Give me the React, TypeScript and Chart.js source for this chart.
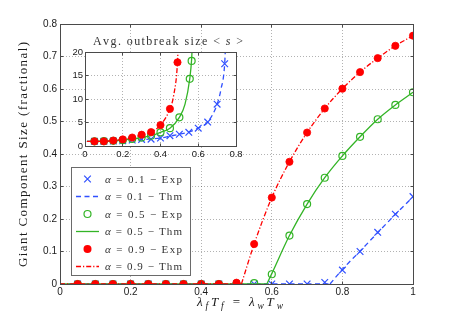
import React, { useEffect, useRef } from "react";
import { Chart, registerables } from "chart.js";
Chart.register(...registerables);

// ---------------- data ----------------
// main plot: giant component size vs lambda*T
const expX = [0.05, 0.1, 0.15, 0.2, 0.25, 0.3, 0.35, 0.4, 0.45, 0.5, 0.55, 0.6, 0.65, 0.7, 0.75, 0.8, 0.85, 0.9, 0.95, 1.0];
const gcExp01 = [0, 0, 0, 0, 0, 0, 0, 0, 0, 0, 0, 0, 0, 0, 0.005, 0.043, 0.1, 0.159, 0.215, 0.269];
const gcExp05 = [0, 0, 0, 0, 0, 0, 0, 0, 0, 0, 0.003, 0.03, 0.149, 0.246, 0.327, 0.394, 0.453, 0.507, 0.551, 0.59];
const gcExp09 = [0, 0, 0, 0, 0, 0, 0, 0, 0, 0.004, 0.123, 0.266, 0.376, 0.466, 0.54, 0.601, 0.652, 0.695, 0.733, 0.764];

const gcThm01X = [0, 0.765, 0.8, 0.85, 0.9, 0.95, 1.0];
const gcThm01Y = [0, 0, 0.045, 0.101, 0.158, 0.214, 0.268];
const gcThm05X = [0, 0.586, 0.6, 0.65, 0.7, 0.75, 0.8, 0.85, 0.9, 0.95, 1.0];
const gcThm05Y = [0, 0, 0.032, 0.149, 0.246, 0.327, 0.394, 0.453, 0.507, 0.551, 0.59];
const gcThm09X = [0, 0.514, 0.55, 0.6, 0.65, 0.7, 0.75, 0.8, 0.85, 0.9, 0.95, 1.0];
const gcThm09Y = [0, 0, 0.123, 0.266, 0.376, 0.466, 0.54, 0.601, 0.652, 0.695, 0.733, 0.764];

// inset: average outbreak size
const osExp01X = [0.05, 0.1, 0.15, 0.2, 0.25, 0.3, 0.35, 0.4, 0.45, 0.5, 0.55, 0.6, 0.65, 0.7, 0.74];
const osExp01Y = [1.0, 1.0, 1.05, 1.1, 1.25, 1.4, 1.45, 1.7, 2.2, 2.5, 2.9, 3.8, 5.1, 8.9, 17.5];
const osExp05X = [0.05, 0.1, 0.15, 0.2, 0.25, 0.3, 0.35, 0.4, 0.45, 0.5, 0.555, 0.565];
const osExp05Y = [1.0, 1.02, 1.1, 1.25, 1.5, 1.8, 2.2, 2.9, 3.8, 6.1, 14.3, 18.1];
const osExp09X = [0.05, 0.1, 0.15, 0.2, 0.25, 0.3, 0.35, 0.4, 0.45, 0.49];
const osExp09Y = [1.0, 1.0, 1.15, 1.4, 1.8, 2.4, 2.95, 4.45, 7.9, 17.8];

const osThm01X = [0.01, 0.05, 0.1, 0.15, 0.2, 0.25, 0.3, 0.35, 0.4, 0.45, 0.5, 0.55, 0.6, 0.65, 0.7, 0.72, 0.74, 0.746];
const osThm01Y = [1.0, 1.0, 1.0, 1.05, 1.1, 1.25, 1.35, 1.5, 1.7, 2.1, 2.5, 2.95, 3.8, 5.1, 8.9, 12, 17.5, 23];
const osThm05X = [0.01, 0.05, 0.1, 0.15, 0.2, 0.25, 0.3, 0.35, 0.4, 0.45, 0.5, 0.53, 0.555, 0.565, 0.57];
const osThm05Y = [1.0, 1.0, 1.02, 1.1, 1.25, 1.5, 1.8, 2.2, 2.9, 3.8, 6.1, 8.9, 14.3, 18.5, 23];
const osThm09X = [0.01, 0.05, 0.1, 0.15, 0.2, 0.25, 0.3, 0.35, 0.4, 0.45, 0.47, 0.49, 0.495];
const osThm09Y = [1.0, 1.0, 1.0, 1.15, 1.4, 1.8, 2.4, 2.95, 4.45, 7.9, 10.8, 17.8, 23];

const alphaLabels = ["0.1", "0.5", "0.9"];
const seriesTags = ["Exp", "Thm"];

// ---------------- styles ----------------
const BLUE = "#3050ff";
const GREEN = "#33b426";
const RED = "#ff0000";
const DASH_BLUE = [5, 3.5];
const DASH_RED = [5, 2, 1.2, 2];
const SERIF = "'Liberation Serif', 'Times New Roman', serif";
const SANS = "'Liberation Sans', Arial, sans-serif";

function pts(xs: number[], ys: number[]) {
  return xs.map((x, i) => ({ x, y: ys[i] }));
}

function expDs(xs: number[], ys: number[], kind: string, color: string, order: number) {
  const base: any = {
    data: pts(xs, ys),
    showLine: false,
    order,
    borderColor: color,
    pointBorderColor: color,
  };
  if (kind === "x") {
    base.pointStyle = "crossRot";
    base.pointRadius = 4.7;
    base.pointBorderWidth = 1.2;
    base.pointBackgroundColor = color;
  } else if (kind === "o") {
    base.pointStyle = "circle";
    base.pointRadius = 3.5;
    base.pointBorderWidth = 1.2;
    base.pointBackgroundColor = "rgba(0,0,0,0)";
  } else {
    base.pointStyle = "circle";
    base.pointRadius = 3.6;
    base.pointBorderWidth = 0.8;
    base.pointBackgroundColor = color;
  }
  base.pointHoverRadius = base.pointRadius;
  return base;
}

function thmDs(data: { x: number; y: number }[], color: string, dash: number[], order: number, smooth: boolean) {
  return {
    data,
    showLine: true,
    pointRadius: 0,
    pointHoverRadius: 0,
    borderColor: color,
    backgroundColor: color,
    borderWidth: 1.3,
    borderDash: dash,
    fill: false,
    order,
    tension: 0,
    cubicInterpolationMode: smooth ? "monotone" : "default",
  };
}

// flat part (before threshold) + smooth rising part
function thmSplit(xs: number[], ys: number[], color: string, dash: number[], order: number) {
  const all = pts(xs, ys);
  return [thmDs(all.slice(0, 2), color, dash, order, false), thmDs(all.slice(1), color, dash, order, true)];
}

function alignPx(p: number) {
  return Math.round(p - 0.5) + 0.5;
}

function drawFitted(
  ctx: CanvasRenderingContext2D,
  parts: { t: string; font: string; dy?: number }[],
  x: number,
  y: number,
  target: number
) {
  let natural = 0;
  let n = 0;
  for (const p of parts) {
    ctx.font = p.font;
    for (const ch of p.t) {
      natural += ctx.measureText(ch).width;
      n++;
    }
  }
  const sp = n > 1 ? (target - natural) / (n - 1) : 0;
  let cx = x;
  for (const p of parts) {
    ctx.font = p.font;
    for (const ch of p.t) {
      ctx.fillText(ch, cx, y + (p.dy || 0));
      cx += ctx.measureText(ch).width + sp;
    }
  }
}

function drawMarker(ctx: CanvasRenderingContext2D, kind: string, color: string, x: number, y: number) {
  ctx.save();
  ctx.strokeStyle = color;
  ctx.fillStyle = color;
  ctx.setLineDash([]);
  if (kind === "x") {
    const o = 4.7 * Math.SQRT1_2;
    ctx.lineWidth = 1.2;
    ctx.beginPath();
    ctx.moveTo(x - o, y - o);
    ctx.lineTo(x + o, y + o);
    ctx.moveTo(x + o, y - o);
    ctx.lineTo(x - o, y + o);
    ctx.stroke();
  } else if (kind === "o") {
    ctx.lineWidth = 1.2;
    ctx.beginPath();
    ctx.arc(x, y, 3.5, 0, Math.PI * 2);
    ctx.stroke();
  } else {
    ctx.beginPath();
    ctx.arc(x, y, 4, 0, Math.PI * 2);
    ctx.fill();
  }
  ctx.restore();
}

const framePlugin = {
  id: "frame",
  beforeDraw(chart: any) {
    const { ctx, chartArea: a } = chart;
    ctx.save();
    ctx.fillStyle = "#ffffff";
    ctx.fillRect(a.left, a.top, a.right - a.left, a.bottom - a.top);
    ctx.restore();
  },
  afterDatasetsDraw(chart: any) {
    const { ctx, chartArea: a, scales } = chart;
    const l = alignPx(a.left), r = alignPx(a.right), t = alignPx(a.top), b = alignPx(a.bottom);
    ctx.save();
    ctx.strokeStyle = "#4a4a4a";
    ctx.lineWidth = 1;
    ctx.setLineDash([]);
    ctx.beginPath();
    for (const tk of scales.x.ticks) {
      const px = alignPx(scales.x.getPixelForValue(tk.value));
      ctx.moveTo(px, b);
      ctx.lineTo(px, b - 3);
      ctx.moveTo(px, t);
      ctx.lineTo(px, t + 3);
    }
    for (const tk of scales.y.ticks) {
      const py = alignPx(scales.y.getPixelForValue(tk.value));
      ctx.moveTo(l, py);
      ctx.lineTo(l + 3, py);
      ctx.moveTo(r, py);
      ctx.lineTo(r - 3, py);
    }
    ctx.stroke();
    ctx.strokeRect(l, t, r - l, b - t);
    ctx.restore();
  },
};

const mainText = {
  id: "mainText",
  afterDraw(chart: any) {
    const ctx: CanvasRenderingContext2D = chart.ctx;
    ctx.save();
    ctx.fillStyle = "#1a1a1a";
    ctx.textBaseline = "alphabetic";
    ctx.textAlign = "left";
    // y title
    ctx.save();
    ctx.translate(27, 154.5);
    ctx.rotate(-Math.PI / 2);
    drawFitted(ctx, [{ t: "Giant Component Size (fractional)", font: `13px ${SERIF}` }], -112.5, 0, 225);
    ctx.restore();
    // x title
    const big = `italic 13px ${SERIF}`;
    const sub = `italic 9.5px ${SERIF}`;
    const rom = `13px ${SERIF}`;
    drawFitted(
      ctx,
      [
        { t: "λ", font: big },
        { t: "f", font: sub, dy: 3 },
        { t: "T", font: big },
        { t: "f", font: sub, dy: 3 },
        { t: " = ", font: rom },
        { t: "λ", font: big },
        { t: "w", font: sub, dy: 3 },
        { t: "T", font: big },
        { t: "w", font: sub, dy: 3 },
      ],
      197,
      306,
      86
    );

    // legend
    const lx = 71.5, ly = 167.5, lw = 119, lh = 108;
    ctx.fillStyle = "#ffffff";
    ctx.fillRect(lx, ly, lw, lh);
    ctx.strokeStyle = "#6a6a6a";
    ctx.lineWidth = 1;
    ctx.strokeRect(lx, ly, lw, lh);
    const colors = [BLUE, GREEN, RED];
    const kinds = ["x", "o", "dot"];
    const dashes = [DASH_BLUE, [], DASH_RED];
    let row = 0;
    for (let i = 0; i < alphaLabels.length; i++) {
      for (let j = 0; j < seriesTags.length; j++) {
        const cy = 179 + row * 17.5;
        if (j === 0) {
          drawMarker(ctx, kinds[i], colors[i], 87.5, cy);
        } else {
          ctx.save();
          ctx.strokeStyle = colors[i];
          ctx.lineWidth = 1.3;
          ctx.setLineDash(dashes[i]);
          ctx.beginPath();
          ctx.moveTo(76, cy);
          ctx.lineTo(99, cy);
          ctx.stroke();
          ctx.restore();
        }
        ctx.fillStyle = "#333333";
        drawFitted(
          ctx,
          [
            { t: "α", font: `italic 11px ${SERIF}` },
            { t: ` = ${alphaLabels[i]} − ${seriesTags[j]}`, font: `11px ${SERIF}` },
          ],
          105,
          cy + 3.5,
          77
        );
        row++;
      }
    }
    ctx.restore();
  },
};

const insetText = {
  id: "insetText",
  afterDraw(chart: any) {
    const ctx: CanvasRenderingContext2D = chart.ctx;
    ctx.save();
    ctx.fillStyle = "#333333";
    ctx.textBaseline = "alphabetic";
    ctx.textAlign = "left";
    drawFitted(
      ctx,
      [
        { t: "Avg. outbreak size < ", font: `12px ${SERIF}` },
        { t: "s", font: `italic 12px ${SERIF}` },
        { t: " >", font: `12px ${SERIF}` },
      ],
      33,
      15,
      150
    );
    ctx.restore();
  },
};

function fmt(v: any) {
  return String(Math.round(Number(v) * 100) / 100);
}

function axis(min: number, max: number, step: number, pad: number, fit: (s: any) => void, size: number) {
  return {
    type: "linear",
    min,
    max,
    ticks: {
      stepSize: step,
      padding: pad,
      color: "#1a1a1a",
      font: { family: SANS, size },
      maxRotation: 0,
      autoSkip: false,
      callback: (v: any) => fmt(v),
    },
    grid: { color: "rgba(0,0,0,0.3)", lineWidth: 1, drawTicks: false },
    border: { display: false, dash: [1, 2] },
    afterFit: fit,
  };
}

function mainConfig(): any {
  return {
    type: "line",
    data: {
      datasets: [
        expDs(expX, gcExp01, "x", BLUE, 7),
        ...thmSplit(gcThm01X, gcThm01Y, BLUE, DASH_BLUE, 6),
        expDs(expX, gcExp05, "o", GREEN, 5),
        ...thmSplit(gcThm05X, gcThm05Y, GREEN, [], 4),
        expDs(expX, gcExp09, "dot", RED, 3),
        ...thmSplit(gcThm09X, gcThm09Y, RED, DASH_RED, 2),
      ],
    },
    options: {
      animation: false,
      responsive: false,
      devicePixelRatio: 1,
      events: [],
      layout: { padding: { top: 24, right: 44, left: 0, bottom: 0 } },
      plugins: { legend: { display: false }, tooltip: { enabled: false }, title: { display: false } },
      scales: {
        x: axis(0, 1, 0.2, 2, (s: any) => { s.height = 36; }, 10),
        y: axis(0, 0.8, 0.1, 3, (s: any) => { s.width = 60; }, 10),
      },
    },
    plugins: [framePlugin, mainText],
  };
}

function insetConfig(): any {
  return {
    type: "line",
    data: {
      datasets: [
        expDs(osExp01X, osExp01Y, "x", BLUE, 7),
        thmDs(pts(osThm01X, osThm01Y), BLUE, DASH_BLUE, 6, true),
        expDs(osExp05X, osExp05Y, "o", GREEN, 5),
        thmDs(pts(osThm05X, osThm05Y), GREEN, [], 4, true),
        expDs(osExp09X, osExp09Y, "dot", RED, 3),
        thmDs(pts(osThm09X, osThm09Y), RED, DASH_RED, 2, true),
      ],
    },
    options: {
      animation: false,
      responsive: false,
      devicePixelRatio: 1,
      events: [],
      layout: { padding: { top: 22, right: 14, left: 0, bottom: 0 } },
      plugins: { legend: { display: false }, tooltip: { enabled: false }, title: { display: false } },
      scales: {
        x: axis(0, 0.8, 0.2, 3, (s: any) => { s.height = 16; }, 9.5),
        y: axis(0, 20, 5, 2, (s: any) => { s.width = 25; }, 9.5),
      },
    },
    plugins: [framePlugin, insetText],
  };
}

export default function App() {
  const mainRef = useRef<HTMLCanvasElement>(null);
  const insetRef = useRef<HTMLCanvasElement>(null);
  useEffect(() => {
    const main = new Chart(mainRef.current as HTMLCanvasElement, mainConfig());
    const inset = new Chart(insetRef.current as HTMLCanvasElement, insetConfig());
    return () => {
      main.destroy();
      inset.destroy();
    };
  }, []);
  return (
    <div style={{ position: "absolute", left: 0, top: 0, width: 457, height: 320, background: "#ffffff", overflow: "hidden" }}>
      <canvas
        ref={mainRef}
        width={457}
        height={320}
        style={{ position: "absolute", left: 0, top: 0, width: 457, height: 320 }}
      />
      <canvas
        ref={insetRef}
        width={190}
        height={132}
        style={{ position: "absolute", left: 60, top: 30, width: 190, height: 132 }}
      />
    </div>
  );
}
